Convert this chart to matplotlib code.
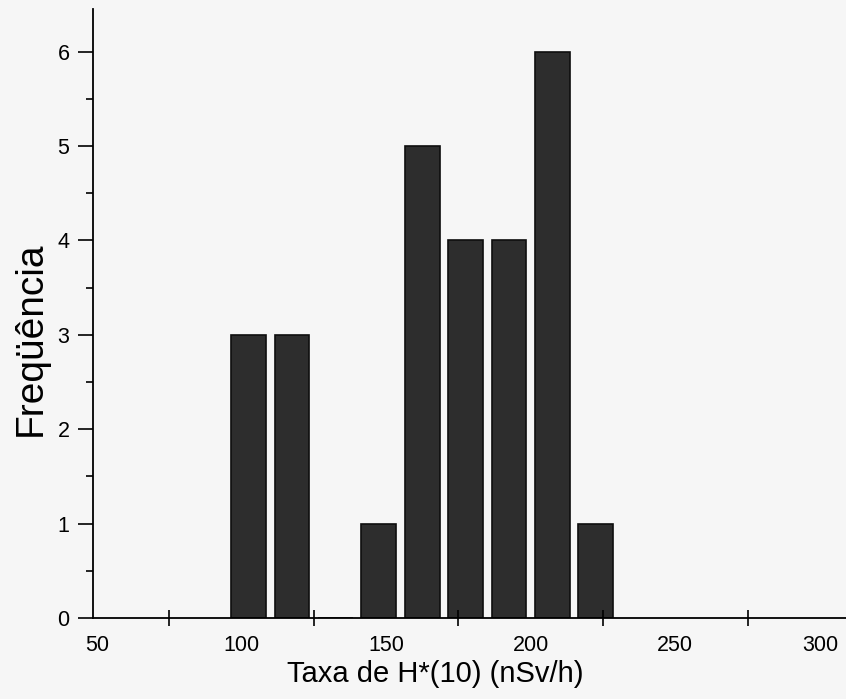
import numpy as np
import matplotlib.pyplot as plt

plt.rcParams["font.family"] = ["Liberation Sans", "DejaVu Sans"]

# histogram bins (centre of each class, nSv/h) and counts
bin_centers = [102.5, 117.5, 132.5, 147.5, 162.5, 177.5, 192.5, 207.5, 222.5]
freq = [3, 3, 0, 1, 5, 4, 4, 6, 1]
x_labels = [50, 100, 150, 200, 250, 300]
x_minor = [75, 125, 175, 225, 275]

fig = plt.figure(figsize=(8.46, 6.99), dpi=100)
fig.patch.set_facecolor("#f6f6f6")
ax = fig.add_axes([0.110, 0.116, 0.890, 0.871])
ax.set_facecolor("#f6f6f6")

ax.bar(bin_centers, freq, width=12, color="#2d2d2d", edgecolor="#0e0e0e", linewidth=1.2)

ax.set_xlim(48.7, 309)
ax.set_ylim(0, 6.45)

ax.spines["top"].set_visible(False)
ax.spines["right"].set_visible(False)
ax.spines["left"].set_linewidth(1.3)
ax.spines["bottom"].set_linewidth(1.3)

ax.set_xticks(x_labels)
ax.set_xticks(x_minor, minor=True)
ax.tick_params(axis="x", which="major", length=0, pad=12, labelsize=15.5)
ax.tick_params(axis="x", which="minor", direction="inout", length=12, width=1.2)

ax.set_yticks(range(0, 7))
ax.set_yticks(np.arange(0.5, 6.5, 1.0), minor=True)
ax.tick_params(axis="y", which="major", direction="out", length=11, width=1.2, pad=6, labelsize=15.5)
ax.tick_params(axis="y", which="minor", direction="out", length=5, width=1.2)

ax.set_xlabel("Taxa de H*(10) (nSv/h)", fontsize=21)
ax.xaxis.set_label_coords(0.455, -0.069)
ax.set_ylabel("Freqüência", fontsize=28)
ax.yaxis.set_label_coords(-0.059, 0.458)

plt.savefig("out.png", dpi=100, facecolor=fig.get_facecolor())
